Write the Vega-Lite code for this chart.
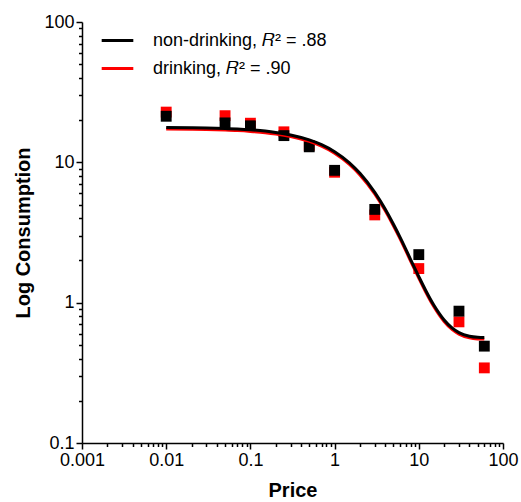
{
  "$schema": "https://vega.github.io/schema/vega-lite/v6.json",
  "width": 421,
  "height": 421,
  "autosize": {"type": "none"},
  "padding": {"left": 82, "top": 22, "right": 18, "bottom": 59},
  "background": "white",
  "config": {
    "font": "Liberation Sans",
    "view": {"stroke": null},
    "axis": {
      "grid": false,
      "domainColor": "#000000",
      "domainWidth": 1.5,
      "tickColor": "#000000",
      "tickWidth": 1.5,
      "labelColor": "#000000",
      "labelFont": "Liberation Sans",
      "labelFontSize": 18,
      "titleFont": "Liberation Sans",
      "titleFontSize": 20,
      "titleFontWeight": "bold",
      "titleColor": "#000000"
    }
  },
  "datasets": {
    "observed": [
      {"group": "drinking", "price": 0.01, "consumption": 22.8},
      {"group": "drinking", "price": 0.05, "consumption": 21.5},
      {"group": "drinking", "price": 0.1, "consumption": 19.0},
      {"group": "drinking", "price": 0.25, "consumption": 16.5},
      {"group": "drinking", "price": 0.5, "consumption": 13.2},
      {"group": "drinking", "price": 1, "consumption": 8.5},
      {"group": "drinking", "price": 3, "consumption": 4.22},
      {"group": "drinking", "price": 10, "consumption": 1.75},
      {"group": "drinking", "price": 30, "consumption": 0.73},
      {"group": "drinking", "price": 60, "consumption": 0.343},
      {"group": "non-drinking", "price": 0.01, "consumption": 21.3},
      {"group": "non-drinking", "price": 0.05, "consumption": 19.1},
      {"group": "non-drinking", "price": 0.1, "consumption": 18.2},
      {"group": "non-drinking", "price": 0.25, "consumption": 15.5},
      {"group": "non-drinking", "price": 0.5, "consumption": 12.9},
      {"group": "non-drinking", "price": 1, "consumption": 8.77},
      {"group": "non-drinking", "price": 3, "consumption": 4.62},
      {"group": "non-drinking", "price": 10, "consumption": 2.2},
      {"group": "non-drinking", "price": 30, "consumption": 0.87},
      {"group": "non-drinking", "price": 60, "consumption": 0.49}
    ],
    "fitted": [
      {"group": "drinking", "price": 0.01, "consumption": 17.27},
      {"group": "drinking", "price": 0.02, "consumption": 17.19},
      {"group": "drinking", "price": 0.03, "consumption": 17.12},
      {"group": "drinking", "price": 0.05, "consumption": 16.97},
      {"group": "drinking", "price": 0.07, "consumption": 16.83},
      {"group": "drinking", "price": 0.1, "consumption": 16.61},
      {"group": "drinking", "price": 0.15, "consumption": 16.27},
      {"group": "drinking", "price": 0.2, "consumption": 15.93},
      {"group": "drinking", "price": 0.3, "consumption": 15.29},
      {"group": "drinking", "price": 0.5, "consumption": 14.10},
      {"group": "drinking", "price": 0.7, "consumption": 13.03},
      {"group": "drinking", "price": 1, "consumption": 11.61},
      {"group": "drinking", "price": 1.5, "consumption": 9.67},
      {"group": "drinking", "price": 2, "consumption": 8.14},
      {"group": "drinking", "price": 3, "consumption": 5.96},
      {"group": "drinking", "price": 4, "consumption": 4.51},
      {"group": "drinking", "price": 5, "consumption": 3.53},
      {"group": "drinking", "price": 6, "consumption": 2.85},
      {"group": "drinking", "price": 7, "consumption": 2.35},
      {"group": "drinking", "price": 8, "consumption": 1.98},
      {"group": "drinking", "price": 10, "consumption": 1.497},
      {"group": "drinking", "price": 12, "consumption": 1.201},
      {"group": "drinking", "price": 15, "consumption": 0.942},
      {"group": "drinking", "price": 20, "consumption": 0.734},
      {"group": "drinking", "price": 25, "consumption": 0.642},
      {"group": "drinking", "price": 30, "consumption": 0.597},
      {"group": "drinking", "price": 40, "consumption": 0.562},
      {"group": "drinking", "price": 50, "consumption": 0.552},
      {"group": "drinking", "price": 60, "consumption": 0.550},
      {"group": "non-drinking", "price": 0.01, "consumption": 17.71},
      {"group": "non-drinking", "price": 0.02, "consumption": 17.63},
      {"group": "non-drinking", "price": 0.03, "consumption": 17.56},
      {"group": "non-drinking", "price": 0.05, "consumption": 17.41},
      {"group": "non-drinking", "price": 0.07, "consumption": 17.26},
      {"group": "non-drinking", "price": 0.1, "consumption": 17.04},
      {"group": "non-drinking", "price": 0.15, "consumption": 16.69},
      {"group": "non-drinking", "price": 0.2, "consumption": 16.34},
      {"group": "non-drinking", "price": 0.3, "consumption": 15.68},
      {"group": "non-drinking", "price": 0.5, "consumption": 14.46},
      {"group": "non-drinking", "price": 0.7, "consumption": 13.36},
      {"group": "non-drinking", "price": 1, "consumption": 11.91},
      {"group": "non-drinking", "price": 1.5, "consumption": 9.92},
      {"group": "non-drinking", "price": 2, "consumption": 8.35},
      {"group": "non-drinking", "price": 3, "consumption": 6.11},
      {"group": "non-drinking", "price": 4, "consumption": 4.63},
      {"group": "non-drinking", "price": 5, "consumption": 3.62},
      {"group": "non-drinking", "price": 6, "consumption": 2.92},
      {"group": "non-drinking", "price": 7, "consumption": 2.41},
      {"group": "non-drinking", "price": 8, "consumption": 2.03},
      {"group": "non-drinking", "price": 10, "consumption": 1.535},
      {"group": "non-drinking", "price": 12, "consumption": 1.232},
      {"group": "non-drinking", "price": 15, "consumption": 0.966},
      {"group": "non-drinking", "price": 20, "consumption": 0.753},
      {"group": "non-drinking", "price": 25, "consumption": 0.658},
      {"group": "non-drinking", "price": 30, "consumption": 0.612},
      {"group": "non-drinking", "price": 40, "consumption": 0.576},
      {"group": "non-drinking", "price": 50, "consumption": 0.566},
      {"group": "non-drinking", "price": 60, "consumption": 0.564}
    ]
  },
  "encoding": {
    "x": {
      "field": "price",
      "type": "quantitative",
      "title": "Price",
      "scale": {"type": "log", "domain": [0.001, 100], "nice": false},
      "axis": {
        "values": [0.001, 0.002, 0.003, 0.004, 0.005, 0.006, 0.007, 0.008, 0.009,
                   0.01, 0.02, 0.03, 0.04, 0.05, 0.06, 0.07, 0.08, 0.09,
                   0.1, 0.2, 0.3, 0.4, 0.5, 0.6, 0.7, 0.8, 0.9,
                   1, 2, 3, 4, 5, 6, 7, 8, 9,
                   10, 20, 30, 40, 50, 60, 70, 80, 90, 100],
        "format": "~g",
        "labelExpr": "abs(log(datum.value) / LN10 - round(log(datum.value) / LN10)) < 1e-6 ? datum.label : ''",
        "tickSize": {"condition": {"test": "abs(log(datum.value) / LN10 - round(log(datum.value) / LN10)) < 1e-6", "value": 6}, "value": 3.5},
        "labelPadding": 2,
        "labelFlush": false,
        "labelOverlap": false,
        "titlePadding": 11
      }
    },
    "y": {
      "field": "consumption",
      "type": "quantitative",
      "title": "Log Consumption",
      "scale": {"type": "log", "domain": [0.1, 100], "nice": false},
      "axis": {
        "values": [0.1, 0.2, 0.3, 0.4, 0.5, 0.6, 0.7, 0.8, 0.9,
                   1, 2, 3, 4, 5, 6, 7, 8, 9,
                   10, 20, 30, 40, 50, 60, 70, 80, 90, 100],
        "format": "~g",
        "labelExpr": "abs(log(datum.value) / LN10 - round(log(datum.value) / LN10)) < 1e-6 ? datum.label : ''",
        "tickSize": {"condition": {"test": "abs(log(datum.value) / LN10 - round(log(datum.value) / LN10)) < 1e-6", "value": 6}, "value": 3.5},
        "labelPadding": 2,
        "labelFlush": false,
        "labelOverlap": false,
        "titlePadding": 10
      }
    }
  },
  "layer": [
    {
      "data": {"name": "observed"},
      "transform": [{"filter": "datum.group === 'drinking'"}],
      "mark": {"type": "point", "shape": "square", "filled": true, "size": 118, "opacity": 1, "color": "#ff0000"}
    },
    {
      "data": {"name": "observed"},
      "transform": [{"filter": "datum.group === 'non-drinking'"}],
      "mark": {"type": "point", "shape": "square", "filled": true, "size": 118, "opacity": 1, "color": "#000000"}
    },
    {
      "data": {"name": "fitted"},
      "transform": [{"filter": "datum.group === 'drinking'"}],
      "mark": {"type": "line", "strokeWidth": 3, "interpolate": "monotone"},
      "encoding": {
        "color": {
          "field": "group",
          "type": "nominal",
          "scale": {"domain": ["non-drinking", "drinking"], "range": ["#000000", "#ff0000"]},
          "legend": {
            "title": null,
            "orient": "none",
            "legendX": 18,
            "legendY": 1,
            "symbolType": "stroke",
            "symbolSize": 1000,
            "symbolStrokeWidth": 3,
            "labelFont": "Liberation Sans",
            "labelFontSize": 18,
            "labelColor": "#000000",
            "labelOffset": 18,
            "labelLimit": 400,
            "rowPadding": 1,
            "labelExpr": "datum.label === 'non-drinking' ? 'non-drinking, 𝑅² = .88' : 'drinking, 𝑅² = .90'"
          }
        }
      }
    },
    {
      "data": {"name": "fitted"},
      "transform": [{"filter": "datum.group === 'non-drinking'"}],
      "mark": {"type": "line", "strokeWidth": 3, "interpolate": "monotone"},
      "encoding": {
        "color": {"field": "group", "type": "nominal"}
      }
    }
  ]
}
